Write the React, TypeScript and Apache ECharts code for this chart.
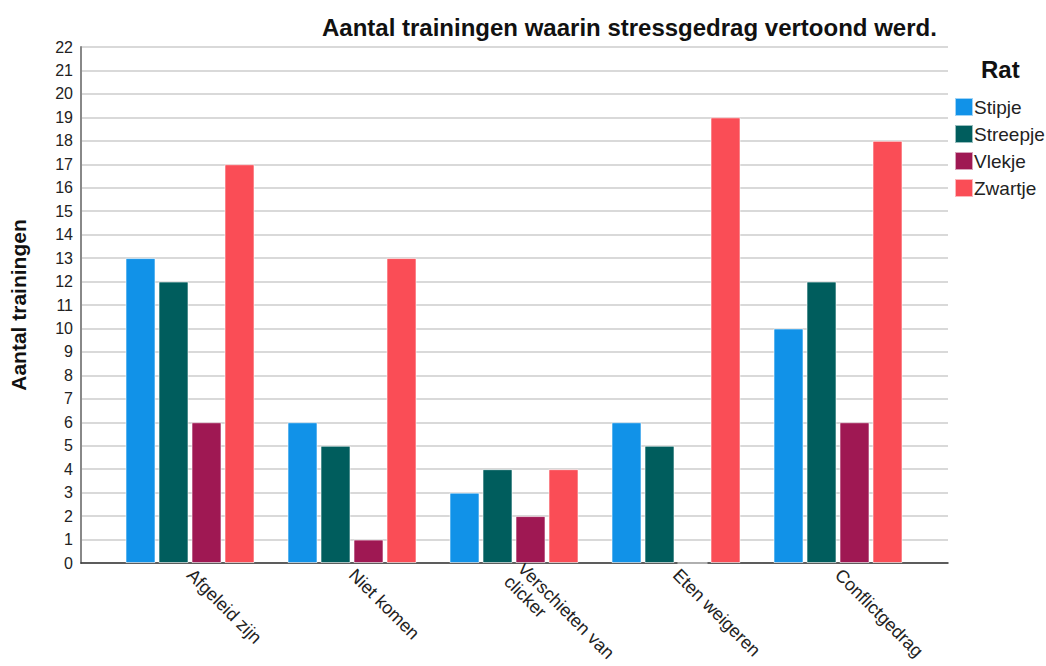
import React, { useEffect, useRef } from "react";
import * as echarts from "echarts";

const categories = ["Afgeleid zijn", "Niet komen", "Verschieten van\nclicker", "Eten weigeren", "Conflictgedrag"];
const seriesNames = ["Stipje", "Streepje", "Vlekje", "Zwartje"];
const stipje = [13, 6, 3, 6, 10];
const streepje = [12, 5, 4, 5, 12];
const vlekje = [6, 1, 2, 0, 6];
const zwartje = [17, 13, 4, 19, 18];
const colors = ["#1192e8", "#005d5d", "#9f1853", "#fa4d56"];

const FONT = "'Liberation Sans', Arial, sans-serif";

export default function App() {
  const ref = useRef<HTMLDivElement>(null);
  useEffect(() => {
    document.body.style.margin = "0";
    const chart = echarts.init(ref.current!, null, { renderer: "svg" });
    const values = [stipje, streepje, vlekje, zwartje];
    chart.setOption({
      animation: false,
      textStyle: { fontFamily: FONT },
      title: [
        {
          text: "Aantal trainingen waarin stressgedrag vertoond werd.",
          left: 317,
          top: 10,
          textStyle: { fontSize: 24, fontWeight: "bold", color: "#111", fontFamily: FONT },
        },
        {
          text: "Rat",
          left: 976,
          top: 52,
          textStyle: { fontSize: 24, fontWeight: "bold", color: "#111", fontFamily: FONT },
        },
      ],
      legend: {
        data: seriesNames,
        orient: "vertical",
        left: 949,
        top: 92,
        icon: "rect",
        itemWidth: 18,
        itemHeight: 18,
        itemGap: 7,
        textStyle: { fontSize: 19, lineHeight: 18, color: "#222", fontFamily: FONT, padding: [0, 0, 0, -4] },
      },
      grid: [
        { left: 81, right: 98, top: 47, bottom: 103, containLabel: false, outerBoundsMode: "none" },
        { left: 109, right: 127, top: 47, bottom: 103, containLabel: false, outerBoundsMode: "none" },
      ],
      xAxis: [
        {
          type: "value",
          gridIndex: 0,
          min: 0,
          max: 1,
          axisLine: { show: true, lineStyle: { color: "#333", width: 1.5 } },
          axisTick: { show: false },
          axisLabel: { show: false },
          splitLine: { show: false },
        },
        {
          type: "category",
          gridIndex: 1,
          data: categories,
          axisLine: { show: false },
          axisTick: { show: false },
          axisLabel: {
            rotate: -45,
            fontSize: 18,
            color: "#222",
            margin: 9,
            interval: 0,
            lineHeight: 19,
            fontFamily: FONT,
          },
        },
      ],
      yAxis: [
        {
          type: "value",
          gridIndex: 0,
          min: 0,
          max: 22,
          interval: 1,
          name: "Aantal trainingen",
          nameLocation: "middle",
          nameGap: 52,
          nameTextStyle: { fontSize: 21, fontWeight: "bold", color: "#111", fontFamily: FONT },
          axisLine: { show: true, lineStyle: { color: "#888", width: 2 } },
          axisTick: { show: false },
          axisLabel: { fontSize: 16, color: "#222", margin: 8, fontFamily: FONT },
          splitLine: { show: true, lineStyle: { color: "#cccccc", width: 1.5 } },
        },
        {
          type: "value",
          gridIndex: 1,
          min: 0,
          max: 22,
          show: false,
          splitLine: { show: false },
        },
      ],
      series: seriesNames.map((name, i) => ({
        name,
        type: "bar",
        xAxisIndex: 1,
        yAxisIndex: 1,
        data: values[i],
        barWidth: 30,
        barGap: "10%",
        itemStyle: { color: colors[i], borderColor: "rgba(255,255,255,0.6)", borderWidth: 1 },
      })),
    });
    return () => chart.dispose();
  }, []);
  return <div ref={ref} style={{ width: 1046, height: 666 }} />;
}
